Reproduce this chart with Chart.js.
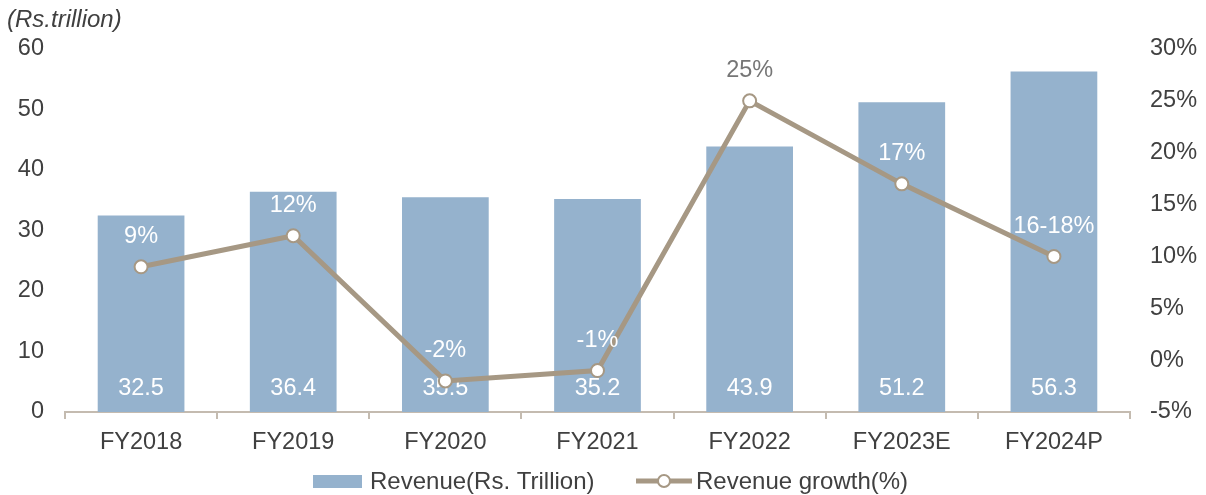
<!DOCTYPE html>
<html>
<head>
<meta charset="utf-8">
<script src="https://cdn.jsdelivr.net/npm/chart.js@4/dist/chart.umd.min.js"></script>
<style>
html,body{margin:0;padding:0;background:#fff;}
#wrap{width:1206px;height:495px;position:relative;}
</style>
</head>
<body>
<div id="wrap"><canvas id="c" width="1206" height="495"></canvas></div>
<script>
const categories = ['FY2018','FY2019','FY2020','FY2021','FY2022','FY2023E','FY2024P'];
const revenue = [32.5, 36.4, 35.5, 35.2, 43.9, 51.2, 56.3];
const growth = [9, 12, -2, -1, 25, 17, 10];
const growthLabels = ['9%','12%','-2%','-1%','25%','17%','16-18%'];
const leftTicks = [0, 10, 20, 30, 40, 50, 60];
const rightTicks = [-5, 0, 5, 10, 15, 20, 25, 30];

const FONT = '"Liberation Sans", Arial, sans-serif';
const FS = 23.5;
const BAR = '#95b2cd';
const LINE = '#a69884';
const TXT = '#404040';

const labelPlugin = {
  id: 'labels',
  afterDatasetDraw(chart, args) {
    const ctx = chart.ctx;
    if (args.index === 0) {
      const meta = chart.getDatasetMeta(0);
      ctx.save();
      ctx.font = FS + 'px ' + FONT;
      ctx.fillStyle = '#ffffff';
      ctx.textAlign = 'center';
      ctx.textBaseline = 'middle';
      meta.data.forEach((el, i) => {
        ctx.fillText(revenue[i].toFixed(1), el.x, chart.chartArea.bottom - 23);
      });
      ctx.restore();
    }
  },
  afterDatasetsDraw(chart) {
    const ctx = chart.ctx;
    const meta = chart.getDatasetMeta(1);
    const barMeta = chart.getDatasetMeta(0);
    ctx.save();
    ctx.font = FS + 'px ' + FONT;
    ctx.textAlign = 'center';
    ctx.textBaseline = 'middle';
    meta.data.forEach((el, i) => {
      const y = el.y - 30;
      const onBar = y > barMeta.data[i].y;
      ctx.fillStyle = onBar ? '#ffffff' : '#767676';
      ctx.fillText(growthLabels[i], el.x, y);
    });
    ctx.restore();
  },
  afterDraw(chart) {
    const ctx = chart.ctx;
    ctx.save();
    ctx.font = 'italic 24px ' + FONT;
    ctx.fillStyle = TXT;
    ctx.textAlign = 'left';
    ctx.textBaseline = 'middle';
    ctx.fillText('(Rs.trillion)', 7, 20);
    const ly = 481;
    ctx.font = '24px ' + FONT;
    ctx.fillStyle = BAR;
    ctx.fillRect(313, ly - 6, 49, 13);
    ctx.fillStyle = TXT;
    ctx.fillText('Revenue(Rs. Trillion)', 370, ly + 1);
    ctx.strokeStyle = LINE;
    ctx.lineWidth = 5;
    ctx.beginPath();
    ctx.moveTo(636, ly);
    ctx.lineTo(692, ly);
    ctx.stroke();
    ctx.beginPath();
    ctx.arc(664, ly, 6, 0, Math.PI * 2);
    ctx.fillStyle = '#ffffff';
    ctx.fill();
    ctx.lineWidth = 2;
    ctx.stroke();
    ctx.fillStyle = TXT;
    ctx.fillText('Revenue growth(%)', 696, ly + 1);
    ctx.restore();
  }
};

new Chart(document.getElementById('c'), {
  data: {
    labels: categories,
    datasets: [
      {
        type: 'bar',
        label: 'Revenue(Rs. Trillion)',
        data: revenue,
        backgroundColor: BAR,
        yAxisID: 'y',
        order: 1,
        categoryPercentage: 1,
        barPercentage: 0.57
      },
      {
        type: 'line',
        label: 'Revenue growth(%)',
        data: growth,
        borderColor: LINE,
        borderWidth: 5,
        pointRadius: 6.5,
        pointBackgroundColor: '#ffffff',
        pointBorderColor: LINE,
        pointBorderWidth: 2,
        tension: 0,
        yAxisID: 'y1',
        order: 0
      }
    ]
  },
  options: {
    responsive: false,
    animation: false,
    events: [],
    layout: { padding: { top: 49, left: 0, right: 0, bottom: 0 } },
    plugins: { legend: { display: false }, tooltip: { enabled: false } },
    scales: {
      x: {
        offset: true,
        grid: { offset: true, drawOnChartArea: false, drawTicks: true, tickLength: 7, color: '#c4bbb0', lineWidth: 2 },
        border: { display: true, color: '#c4bbb0', width: 2 },
        ticks: { color: TXT, font: { family: FONT, size: FS }, padding: 9 },
        afterFit(s) { s.height = 83; }
      },
      y: {
        position: 'left',
        min: 0, max: 60,
        afterBuildTicks(s) { s.ticks = leftTicks.map(v => ({ value: v })); },
        grid: { display: false, drawTicks: false },
        border: { display: false },
        ticks: { color: TXT, font: { family: FONT, size: FS }, padding: 21 },
        afterFit(s) { s.width = 65; }
      },
      y1: {
        position: 'right',
        min: -5, max: 30,
        afterBuildTicks(s) { s.ticks = rightTicks.map(v => ({ value: v })); },
        grid: { display: false, drawTicks: false },
        border: { display: false },
        ticks: { color: TXT, font: { family: FONT, size: FS }, padding: 20, callback: v => v + '%' },
        afterFit(s) { s.width = 76; }
      }
    }
  },
  plugins: [labelPlugin]
});
</script>
</body>
</html>
